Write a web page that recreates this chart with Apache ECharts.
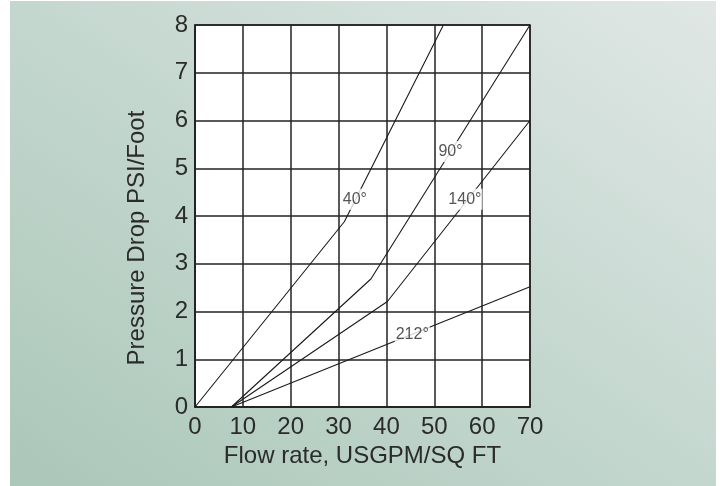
<!DOCTYPE html>
<html>
<head>
<meta charset="utf-8">
<script src="https://cdn.jsdelivr.net/npm/echarts@6/dist/echarts.min.js"></script>
<style>
html,body{margin:0;padding:0;background:#ffffff;}
#bg{position:absolute;left:10px;top:1px;width:706px;height:485px;background:linear-gradient(to top right,#abc7b9 0%,#c4d7cf 50%,#e0e7e5 100%);}
#chart{position:absolute;left:0;top:0;width:723px;height:486px;}
</style>
</head>
<body>
<div id="bg"></div>
<div id="chart"></div>
<script>
// Data
const xTicks = [0, 10, 20, 30, 40, 50, 60, 70];
const yTicks = [0, 1, 2, 3, 4, 5, 6, 7, 8];
const curve40 = [[0, 0], [31.2, 3.88], [51.9, 8]];
const curve90 = [[7.6, 0], [36.75, 2.68], [70, 8]];
const curve140 = [[7.6, 0], [40.2, 2.21], [70, 6]];
const curve212 = [[7.6, 0], [70, 2.52]];
const curveNames = ['40°', '90°', '140°', '212°'];
const labelPoints = [[33.4, 4.35], [53.4, 5.35], [56.4, 4.35], [45.4, 1.51]];

const chart = echarts.init(document.getElementById('chart'), null, {renderer: 'canvas'});
const lineColor = '#1a1a1a';
const gridColor = '#222222';
const font = 'Liberation Sans, Arial, sans-serif';

function lineSeries(name, data) {
  return {
    name: name, type: 'line', data: data, symbol: 'none', z: 3,
    lineStyle: {color: lineColor, width: 1.1}, animation: false
  };
}

chart.setOption({
  animation: false,
  grid: {left: 195, right: 193, top: 25, bottom: 79, show: true, backgroundColor: '#ffffff', borderColor: gridColor, borderWidth: 1.5},
  xAxis: {
    type: 'value', min: xTicks[0], max: xTicks[xTicks.length - 1], interval: 10,
    name: 'Flow rate, USGPM/SQ FT', nameLocation: 'middle', nameGap: 35,
    nameTextStyle: {fontFamily: font, fontSize: 24, color: '#2b2b2b'},
    axisLine: {show: true, lineStyle: {color: gridColor, width: 1.5}},
    axisTick: {show: false},
    axisLabel: {fontFamily: font, fontSize: 24, color: '#2b2b2b', margin: 8},
    splitLine: {show: true, lineStyle: {color: gridColor, width: 1.5}}
  },
  yAxis: {
    type: 'value', min: yTicks[0], max: yTicks[yTicks.length - 1], interval: 1,
    name: 'Pressure Drop PSI/Foot', nameLocation: 'middle', nameGap: 46, nameRotate: 90,
    nameTextStyle: {fontFamily: font, fontSize: 24, color: '#2b2b2b', padding: [0, 44, 0, 0]},
    axisLine: {show: true, lineStyle: {color: gridColor, width: 1.5}},
    axisTick: {show: false},
    axisLabel: {fontFamily: font, fontSize: 24, color: '#2b2b2b', margin: 7},
    splitLine: {show: true, lineStyle: {color: gridColor, width: 1.5}}
  },
  series: [
    lineSeries(curveNames[0], curve40),
    lineSeries(curveNames[1], curve90),
    lineSeries(curveNames[2], curve140),
    lineSeries(curveNames[3], curve212),
    {
      type: 'scatter', z: 5, symbolSize: 0, silent: true,
      data: labelPoints.map((p, i) => ({value: p, name: curveNames[i]})),
      label: {
        show: true, position: 'inside', formatter: '{b}',
        fontFamily: font, fontSize: 16, color: '#2b2b2b',
        backgroundColor: '#ffffff', padding: [3, 1, 2, 1]
      }
    }
  ]
});
</script>
</body>
</html>
